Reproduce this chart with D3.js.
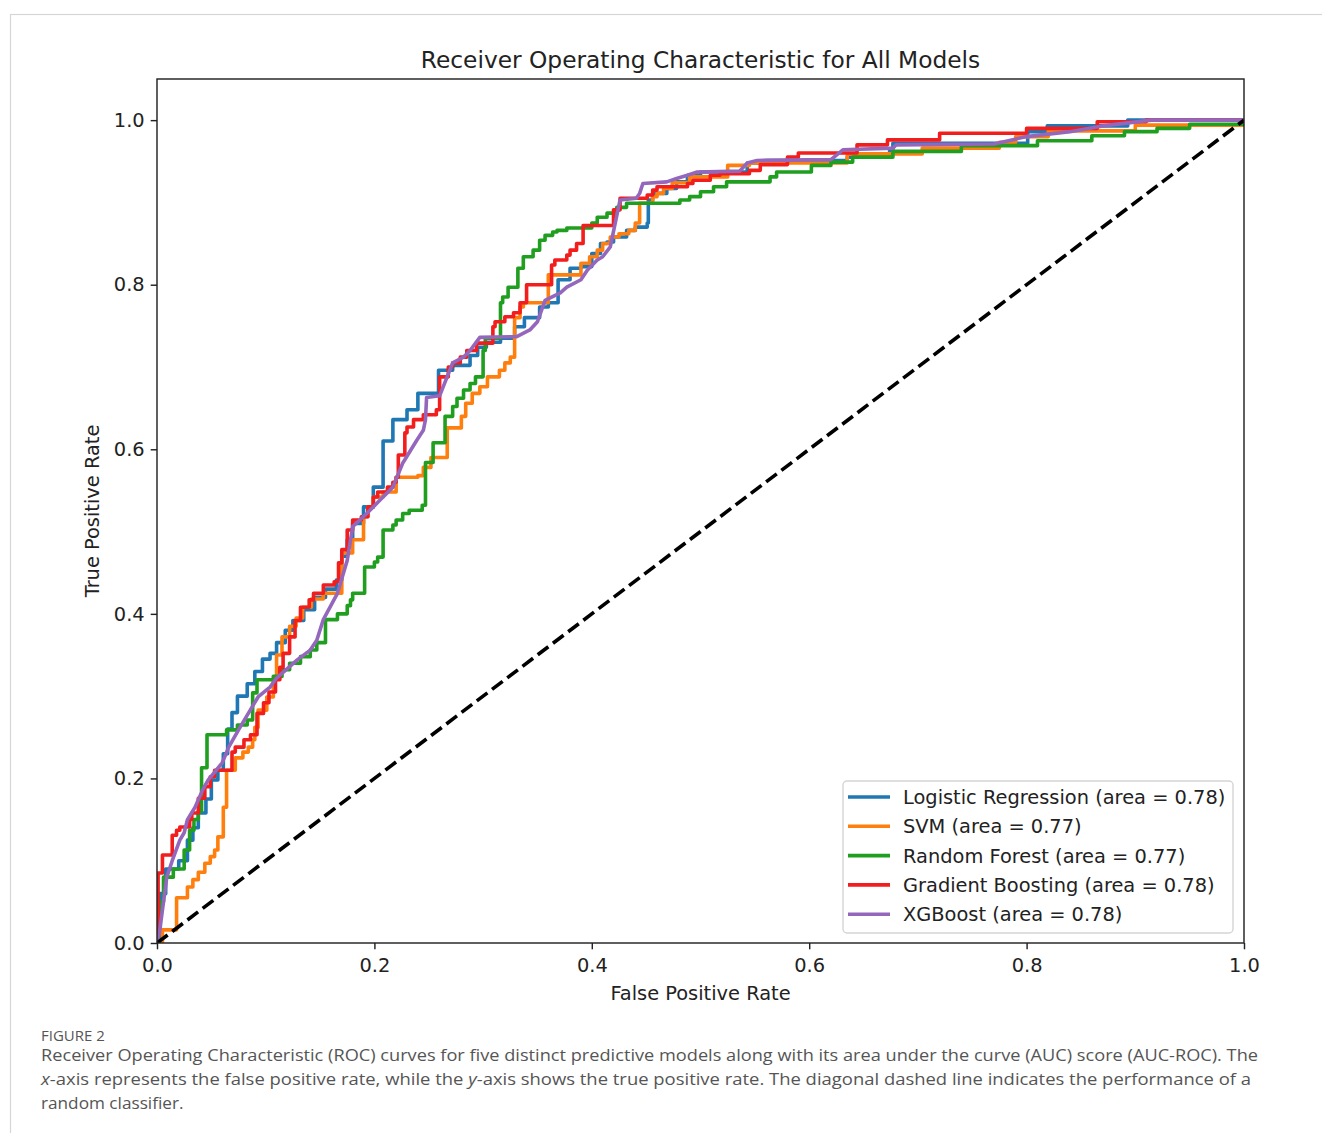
<!DOCTYPE html>
<html>
<head>
<meta charset="utf-8">
<script src="https://cdn.jsdelivr.net/npm/d3@7"></script>
<style>
  html, body { margin: 0; padding: 0; background: #ffffff; }
  svg { display: block; }
</style>
</head>
<body>
<svg id="chart" width="1322" height="1133"></svg>
<script>
// ---------------- DATA ----------------
const chartTitle = "Receiver Operating Characteristic for All Models";
const xLabel = "False Positive Rate";
const yLabel = "True Positive Rate";
const xTicks = [0.0, 0.2, 0.4, 0.6, 0.8, 1.0];
const yTicks = [0.0, 0.2, 0.4, 0.6, 0.8, 1.0];
const modelNames = ["Logistic Regression", "SVM", "Random Forest", "Gradient Boosting", "XGBoost"];
const modelAUC = [0.78, 0.77, 0.77, 0.78, 0.78];
const modelColors = ["#1f77b4", "#ff7f0e", "#1f9e1f", "#f21d1d", "#9467bd"];

// ROC points [fpr, tpr]; step curves: at fpr the tpr rises to the given value
const rocLogReg = [[0,0],[0.003,0.06],[0.008,0.09],[0.02,0.10],[0.028,0.125],[0.033,0.14],[0.038,0.158],[0.045,0.175],[0.05,0.198],[0.056,0.21],[0.061,0.23],[0.065,0.26],[0.069,0.28],[0.074,0.30],[0.083,0.315],[0.09,0.33],[0.097,0.345],[0.104,0.352],[0.11,0.365],[0.118,0.38],[0.125,0.392],[0.135,0.405],[0.145,0.42],[0.155,0.43],[0.165,0.441],[0.17,0.47],[0.175,0.49],[0.18,0.51],[0.19,0.53],[0.199,0.554],[0.208,0.61],[0.217,0.636],[0.23,0.648],[0.24,0.668],[0.259,0.696],[0.272,0.702],[0.288,0.714],[0.295,0.724],[0.303,0.73],[0.316,0.735],[0.329,0.749],[0.338,0.76],[0.352,0.773],[0.36,0.778],[0.369,0.806],[0.38,0.82],[0.39,0.822],[0.4,0.838],[0.408,0.85],[0.414,0.852],[0.42,0.858],[0.432,0.866],[0.44,0.87],[0.451,0.875],[0.452,0.903],[0.456,0.911],[0.469,0.917],[0.478,0.925],[0.488,0.933],[0.50,0.937],[0.543,0.948],[0.56,0.951],[0.635,0.955],[0.674,0.964],[0.677,0.972],[0.801,0.986],[0.819,0.993],[0.893,1.0],[1.0,1.0]];
const rocSVM = [[0,0],[0.005,0.016],[0.018,0.055],[0.028,0.068],[0.033,0.077],[0.038,0.086],[0.044,0.097],[0.049,0.105],[0.053,0.113],[0.056,0.129],[0.061,0.165],[0.064,0.21],[0.072,0.225],[0.079,0.232],[0.084,0.238],[0.088,0.247],[0.09,0.262],[0.093,0.283],[0.101,0.299],[0.107,0.32],[0.11,0.35],[0.115,0.372],[0.122,0.385],[0.128,0.395],[0.134,0.408],[0.142,0.418],[0.153,0.425],[0.17,0.474],[0.18,0.49],[0.19,0.518],[0.194,0.53],[0.199,0.542],[0.208,0.548],[0.22,0.566],[0.24,0.568],[0.245,0.578],[0.252,0.59],[0.267,0.626],[0.28,0.64],[0.284,0.656],[0.29,0.668],[0.297,0.676],[0.304,0.688],[0.315,0.696],[0.32,0.705],[0.325,0.712],[0.329,0.76],[0.334,0.773],[0.337,0.778],[0.36,0.812],[0.39,0.826],[0.398,0.834],[0.405,0.842],[0.41,0.85],[0.417,0.858],[0.425,0.862],[0.434,0.866],[0.44,0.875],[0.444,0.899],[0.456,0.907],[0.46,0.911],[0.466,0.917],[0.474,0.924],[0.49,0.931],[0.525,0.945],[0.545,0.948],[0.635,0.959],[0.704,0.966],[0.775,0.973],[0.79,0.98],[0.82,0.987],[0.9,0.994],[1.0,1.0]];
const rocRandomForest = [[0,0],[0.002,0.05],[0.006,0.08],[0.015,0.09],[0.025,0.113],[0.03,0.137],[0.034,0.15],[0.038,0.16],[0.041,0.213],[0.046,0.253],[0.064,0.259],[0.074,0.265],[0.083,0.271],[0.088,0.304],[0.092,0.32],[0.107,0.324],[0.115,0.332],[0.122,0.34],[0.132,0.348],[0.141,0.356],[0.147,0.365],[0.155,0.393],[0.166,0.4],[0.175,0.41],[0.178,0.417],[0.18,0.425],[0.191,0.457],[0.2,0.463],[0.203,0.469],[0.208,0.502],[0.217,0.508],[0.22,0.514],[0.226,0.522],[0.232,0.526],[0.244,0.532],[0.247,0.584],[0.254,0.608],[0.265,0.64],[0.272,0.652],[0.276,0.662],[0.282,0.672],[0.288,0.68],[0.293,0.688],[0.3,0.72],[0.302,0.735],[0.316,0.778],[0.318,0.785],[0.323,0.797],[0.332,0.82],[0.337,0.834],[0.346,0.842],[0.352,0.854],[0.357,0.86],[0.364,0.864],[0.368,0.866],[0.377,0.869],[0.4,0.875],[0.405,0.882],[0.414,0.887],[0.423,0.894],[0.432,0.899],[0.481,0.903],[0.49,0.907],[0.5,0.913],[0.512,0.919],[0.524,0.925],[0.564,0.931],[0.57,0.937],[0.602,0.945],[0.62,0.949],[0.64,0.955],[0.677,0.962],[0.74,0.969],[0.81,0.975],[0.86,0.981],[0.89,0.986],[0.92,0.99],[0.95,0.995],[1.0,1.0]];
const rocGradBoost = [[0,0],[0.001,0.085],[0.005,0.107],[0.014,0.131],[0.018,0.137],[0.021,0.141],[0.03,0.15],[0.032,0.158],[0.038,0.176],[0.044,0.19],[0.049,0.202],[0.053,0.21],[0.069,0.232],[0.072,0.238],[0.08,0.247],[0.086,0.253],[0.092,0.279],[0.098,0.292],[0.103,0.305],[0.109,0.32],[0.113,0.335],[0.116,0.352],[0.122,0.372],[0.127,0.392],[0.132,0.408],[0.14,0.417],[0.144,0.425],[0.153,0.435],[0.163,0.439],[0.167,0.462],[0.17,0.478],[0.175,0.502],[0.18,0.514],[0.188,0.518],[0.194,0.53],[0.199,0.542],[0.203,0.548],[0.212,0.554],[0.217,0.56],[0.22,0.566],[0.222,0.593],[0.228,0.62],[0.23,0.627],[0.236,0.636],[0.245,0.642],[0.257,0.648],[0.26,0.688],[0.268,0.7],[0.272,0.705],[0.279,0.712],[0.285,0.72],[0.294,0.729],[0.309,0.749],[0.311,0.755],[0.32,0.761],[0.328,0.766],[0.334,0.778],[0.34,0.8],[0.363,0.824],[0.366,0.83],[0.377,0.836],[0.38,0.842],[0.386,0.85],[0.392,0.872],[0.42,0.891],[0.426,0.905],[0.451,0.909],[0.456,0.915],[0.46,0.919],[0.488,0.923],[0.493,0.927],[0.509,0.933],[0.518,0.935],[0.545,0.939],[0.555,0.946],[0.58,0.955],[0.59,0.96],[0.644,0.97],[0.672,0.976],[0.72,0.984],[0.8,0.99],[0.865,0.998],[0.91,1.0],[1.0,1.0]];
// XGBoost: drawn point to point
const rocXGBoost = [[0,0],[0.002,0.01],[0.006,0.05],[0.009,0.08],[0.014,0.1],[0.021,0.125],[0.025,0.134],[0.028,0.15],[0.035,0.165],[0.042,0.186],[0.047,0.198],[0.06,0.219],[0.066,0.238],[0.075,0.259],[0.084,0.279],[0.093,0.299],[0.104,0.311],[0.11,0.322],[0.129,0.344],[0.141,0.356],[0.147,0.368],[0.153,0.393],[0.166,0.425],[0.175,0.465],[0.18,0.506],[0.193,0.522],[0.205,0.538],[0.217,0.554],[0.226,0.583],[0.239,0.611],[0.245,0.623],[0.247,0.636],[0.248,0.663],[0.26,0.665],[0.272,0.705],[0.282,0.712],[0.288,0.72],[0.297,0.736],[0.331,0.737],[0.343,0.745],[0.35,0.755],[0.357,0.781],[0.371,0.79],[0.377,0.797],[0.39,0.806],[0.396,0.818],[0.405,0.83],[0.41,0.834],[0.417,0.846],[0.426,0.903],[0.441,0.905],[0.444,0.911],[0.447,0.923],[0.469,0.925],[0.478,0.929],[0.488,0.933],[0.497,0.937],[0.536,0.938],[0.543,0.948],[0.552,0.951],[0.62,0.952],[0.631,0.964],[0.677,0.966],[0.68,0.97],[0.77,0.971],[0.8,0.98],[0.84,0.986],[0.87,0.993],[0.915,1.0],[1.0,1.0]];
const chanceLine = [[0,0],[1,1]];

const captionHead = "FIGURE 2";
const captionLines = [
  [{t:"Receiver Operating Characteristic (ROC) curves for five distinct predictive models along with its area under the curve (AUC) score (AUC-ROC). The"}],
  [{t:"x", i:true},{t:"-axis represents the false positive rate, while the "},{t:"y", i:true},{t:"-axis shows the true positive rate. The diagonal dashed line indicates the performance of a"}],
  [{t:"random classifier."}]
];

// ---------------- LAYOUT ----------------
const svg = d3.select("#chart");
const W = 1322, H = 1133;
const plot = {left: 157, right: 1244, top: 79, bottom: 943};
const font = "'DejaVu Sans', sans-serif";
const fs = 19.4;

// card frame
svg.append("rect").attr("x", 10.5).attr("y", 14.5).attr("width", W + 20).attr("height", H + 20)
  .attr("fill", "#fff").attr("stroke", "#d6d6d6").attr("stroke-width", 1.2);

const x = d3.scaleLinear().domain([0, 1]).range([plot.left, plot.right]);
const y = d3.scaleLinear().domain([0, 1.05]).range([plot.bottom, plot.top]);

const g = svg.append("g");

svg.append("defs").append("clipPath").attr("id", "clip")
  .append("rect").attr("x", plot.left).attr("y", plot.top)
  .attr("width", plot.right - plot.left).attr("height", plot.bottom - plot.top);

const curves = [rocLogReg, rocSVM, rocRandomForest, rocGradBoost, rocXGBoost];
const stepLine = d3.line().x(d => x(d[0])).y(d => y(d[1])).curve(d3.curveStepAfter);
const straightLine = d3.line().x(d => x(d[0])).y(d => y(d[1]));

const curveG = g.append("g").attr("clip-path", "url(#clip)");
curves.forEach((c, i) => {
  curveG.append("path").datum(c)
    .attr("d", i === 4 ? straightLine : stepLine)
    .attr("fill", "none").attr("stroke", modelColors[i])
    .attr("stroke-width", 3.6).attr("stroke-linejoin", "round").attr("stroke-linecap", "square");
});
curveG.append("path").datum(chanceLine).attr("d", straightLine)
  .attr("fill", "none").attr("stroke", "#000").attr("stroke-width", 3.6)
  .attr("stroke-dasharray", "13.3,5.8");

// axes
const xAxis = d3.axisBottom(x).tickValues(xTicks).tickFormat(d3.format(".1f")).tickSize(6.3).tickPadding(6);
const yAxis = d3.axisLeft(y).tickValues(yTicks).tickFormat(d3.format(".1f")).tickSize(6.3).tickPadding(6);
const gx = g.append("g").attr("transform", `translate(0,${plot.bottom})`).call(xAxis);
const gy = g.append("g").attr("transform", `translate(${plot.left},0)`).call(yAxis);
[gx, gy].forEach(a => {
  a.select(".domain").remove();
  a.selectAll(".tick line").attr("stroke", "#222").attr("stroke-width", 1.44);
  a.selectAll(".tick text").attr("font-family", font).attr("font-size", fs).attr("fill", "#222");
});
gx.selectAll(".tick text").attr("dy", "0.85em");

// frame
g.append("rect").attr("x", plot.left).attr("y", plot.top)
  .attr("width", plot.right - plot.left).attr("height", plot.bottom - plot.top)
  .attr("fill", "none").attr("stroke", "#222").attr("stroke-width", 1.44);

// title & labels
g.append("text").attr("x", (plot.left + plot.right) / 2).attr("y", 68)
  .attr("text-anchor", "middle").attr("font-family", font).attr("font-size", 23.3).attr("fill", "#222")
  .text(chartTitle);
g.append("text").attr("x", (plot.left + plot.right) / 2).attr("y", 1000)
  .attr("text-anchor", "middle").attr("font-family", font).attr("font-size", fs).attr("fill", "#222")
  .text(xLabel);
g.append("text").attr("transform", `translate(99,${(plot.top + plot.bottom) / 2}) rotate(-90)`)
  .attr("text-anchor", "middle").attr("font-family", font).attr("font-size", fs).attr("fill", "#222")
  .text(yLabel);

// legend
const lg = g.append("g");
lg.append("rect").attr("x", 843).attr("y", 781).attr("width", 390).attr("height", 152)
  .attr("rx", 4).attr("fill", "#fff").attr("fill-opacity", 0.85)
  .attr("stroke", "#d5d5d5").attr("stroke-width", 1.4);
modelNames.forEach((n, i) => {
  const yy = 797 + i * 29.3;
  lg.append("line").attr("x1", 848).attr("x2", 890).attr("y1", yy).attr("y2", yy)
    .attr("stroke", modelColors[i]).attr("stroke-width", 3.6);
  lg.append("text").attr("x", 903).attr("y", yy).attr("dy", "0.36em")
    .attr("font-family", font).attr("font-size", fs).attr("fill", "#222")
    .text(`${n} (area = ${modelAUC[i].toFixed(2)})`);
});

// caption
const capFont = "'Open Sans', 'Noto Sans', sans-serif";
svg.append("text").attr("x", 41).attr("y", 1041).attr("font-family", capFont)
  .attr("font-size", 15).attr("fill", "#555").text(captionHead);
const capWidths = [1217, 1210, null];
captionLines.forEach((line, li) => {
  const t = svg.append("text").attr("x", 41).attr("y", 1061 + li * 24)
    .attr("font-family", capFont).attr("font-size", 17.2).attr("fill", "#555");
  line.forEach(s => {
    const ts = t.append("tspan").text(s.t);
    if (s.i) ts.attr("font-style", "italic");
  });
  if (capWidths[li]) t.attr("textLength", capWidths[li]).attr("lengthAdjust", "spacingAndGlyphs");
});
</script>
</body>
</html>
